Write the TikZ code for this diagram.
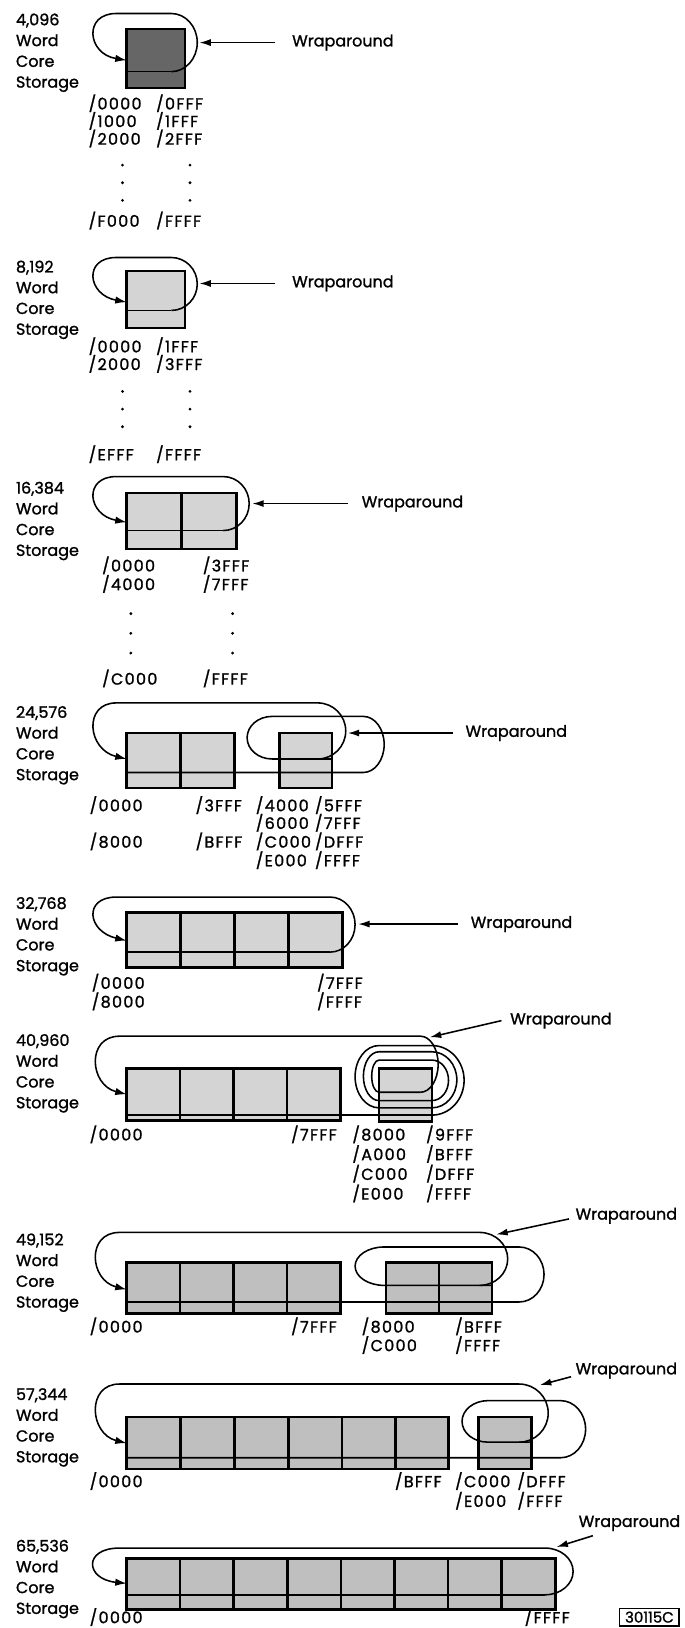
\documentclass[tikz,border=0pt]{standalone}
\usepackage{fontspec}
\setmainfont{Poppins}[FakeBold=1.2]
\newfontfamily\addrfont{Poppins}[FakeBold=1.2, LetterSpace=8]
\usetikzlibrary{arrows.meta}
\definecolor{darkfill}{gray}{0.40}
\definecolor{lightfill}{gray}{0.83}
\definecolor{midfill}{gray}{0.75}
\tikzset{
  lbl/.style={anchor=base west, align=left, inner sep=0pt, font=\fontsize{7.7}{10}\selectfont},
  addr/.style={anchor=base west, inner sep=0pt, font=\addrfont\fontsize{7.7}{9}\selectfont},
  wrap/.style={anchor=west, inner sep=0pt, font=\fontsize{7.7}{9}\selectfont},
  lp/.style={line width=0.75pt},
  lparrow/.style={line width=0.75pt, -{Latex[length=5.5pt,width=3.6pt]}},
  ptr/.style={line width=0.75pt, -{Latex[length=5.5pt,width=3.4pt]}},
  boxl/.style={line width=1.2pt},
  stamp/.style={draw, line width=0.6pt, inner sep=0pt, minimum width=28.5pt, minimum height=8.5pt, font=\fontsize{7.2}{8}\selectfont},
}
% label block: #1 name, #2 centre of first line (y), #3 text
\newcommand\lab[3]{\node[lbl] (#1) at (15,#2+65.4) {#3\\Word\\Core\\Storage};}
\newcommand\addr[4]{\node[addr] (#1) at (#2,#3+5.4) {#4};}
\begin{document}
\begin{tikzpicture}[x=0.5pt,y=-0.5pt]
\useasboundingbox[fill=white] (0,0) rectangle (659,1568);

% ---------------- 4,096
\lab{l1}{19}{4,096}
\fill[darkfill] (122,28) rectangle (178,85);
\draw[boxl] (122,28) rectangle (178,85);
\coordinate (s1) at (165,69); \coordinate (t1) at (122,58);
\draw[lp] (122,69) -- (s1);
\draw[lparrow] (s1) arc[start angle=90, end angle=-90, x radius=25, y radius=28] -- (112,13) .. controls (80,13) and (84,52) .. (t1);
\node[wrap] (w1) at (281,41) {Wraparound};
\coordinate (h1) at (192,41);
\draw[ptr] ([xshift=-8pt]w1.west) -- (h1);
\addr{a1a}{85}{100}{/0000} \addr{a1b}{150}{100}{/0FFF}
\addr{a1c}{85}{117}{/1000} \addr{a1d}{150}{117}{/1FFF}
\addr{a1e}{85}{134}{/2000} \addr{a1f}{150}{134}{/2FFF}
\foreach \yy in {159,176,193} {\fill (118,\yy) circle (1.5); \fill (183,\yy) circle (1.5);}
\addr{a1g}{85}{213}{/F000} \addr{a1h}{150}{213}{/FFFF}

% ---------------- 8,192
\lab{l2}{257}{8,192}
\fill[lightfill] (122,261) rectangle (178,316);
\draw[boxl] (122,261) rectangle (178,316);
\coordinate (s2) at (165,299); \coordinate (t2) at (122,291);
\draw[lp] (122,299) -- (s2);
\draw[lparrow] (s2) arc[start angle=90, end angle=-90, x radius=25, y radius=25.5] -- (112,248) .. controls (80,248) and (84,284) .. (t2);
\node[wrap] (w2) at (281,273) {Wraparound};
\coordinate (h2) at (192,273);
\draw[ptr] ([xshift=-8pt]w2.west) -- (h2);
\addr{a2a}{85}{334}{/0000} \addr{a2b}{150}{334}{/1FFF}
\addr{a2c}{85}{351}{/2000} \addr{a2d}{150}{351}{/3FFF}
\foreach \yy in {377,394,411} {\fill (118,\yy) circle (1.5); \fill (183,\yy) circle (1.5);}
\addr{a2g}{85}{438}{/EFFF} \addr{a2h}{150}{438}{/FFFF}

% ---------------- 16,384
\lab{l3}{470}{16,384}
\fill[lightfill] (122,475) rectangle (228,529);
\draw[boxl] (122,475) rectangle (228,529) (175,475) -- (175,529);
\coordinate (s3) at (215,511); \coordinate (t3) at (122,503);
\draw[lp] (122,511) -- (s3);
\draw[lparrow] (s3) arc[start angle=90, end angle=-90, x radius=25, y radius=26] -- (112,459) .. controls (80,459) and (84,496) .. (t3);
\node[wrap] (w3) at (348,485) {Wraparound};
\coordinate (h3) at (243,485);
\draw[ptr] ([xshift=-6.5pt]w3.west) -- (h3);
\addr{a3a}{98}{545}{/0000} \addr{a3b}{195}{545}{/3FFF}
\addr{a3c}{98}{563}{/4000} \addr{a3d}{195}{563}{/7FFF}
\foreach \yy in {591,610,629} {\fill (126,\yy) circle (1.5); \fill (224,\yy) circle (1.5);}
\addr{a3g}{98}{654}{/C000} \addr{a3h}{195}{654}{/FFFF}

% ---------------- 24,576
\lab{l4}{686}{24,576}
\fill[lightfill] (122,706) rectangle (226,759);
\fill[lightfill] (269,706) rectangle (320,759);
\draw[boxl] (122,706) rectangle (226,759) (174,706) -- (174,759);
\draw[boxl] (269,706) rectangle (320,759);
\coordinate (t4) at (122,731);
\draw[lparrow] (306,731) arc[start angle=90, end angle=-90, x radius=27, y radius=27] -- (112,677) .. controls (80,677) and (84,722) .. (t4);
\draw[lp] (122,744) -- (350,744) arc[start angle=90, end angle=-90, x radius=20, y radius=27] -- (262,690) arc[start angle=-90, end angle=-270, x radius=24, y radius=20.5] -- (320,731);
\node[wrap] (w4) at (448,706) {Wraparound};
\coordinate (h4) at (335,706);
\draw[ptr] ([xshift=-6pt]w4.west) -- (h4);
\addr{a4a}{86}{776}{/0000} \addr{a4b}{188}{776}{/3FFF} \addr{a4c}{246}{776}{/4000} \addr{a4d}{303}{776}{/5FFF}
\addr{a4e}{246}{793}{/6000} \addr{a4f}{303}{793}{/7FFF}
\addr{a4g}{86}{811}{/8000} \addr{a4h}{188}{811}{/BFFF} \addr{a4i}{246}{811}{/C000} \addr{a4j}{303}{811}{/DFFF}
\addr{a4k}{246}{829}{/E000} \addr{a4l}{303}{829}{/FFFF}

% ---------------- 32,768
\lab{l5}{870}{32,768}
\fill[lightfill] (122,879) rectangle (330,932);
\draw[boxl] (122,879) rectangle (330,932) (174,879) -- (174,932) (226,879) -- (226,932) (278,879) -- (278,932);
\coordinate (s5) at (318,917); \coordinate (t5) at (122,906);
\draw[lp] (122,917) -- (s5);
\draw[lparrow] (s5) arc[start angle=90, end angle=-90, x radius=24, y radius=26.5] -- (112,864) .. controls (80,864) and (84,897) .. (t5);
\node[wrap] (w5) at (453,890) {Wraparound};
\coordinate (h5) at (345,890);
\draw[ptr] ([xshift=-6pt]w5.west) -- (h5);
\addr{a5a}{88}{947}{/0000} \addr{a5b}{305}{947}{/7FFF}
\addr{a5c}{88}{965}{/8000} \addr{a5d}{305}{965}{/FFFF}

% ---------------- 40,960
\lab{l6}{1002}{40,960}
\fill[lightfill] (122,1029) rectangle (328,1079);
\fill[lightfill] (365,1029) rectangle (416,1080);
\draw[boxl] (122,1029) rectangle (328,1079) (173.5,1029) -- (173.5,1079) (225,1029) -- (225,1079) (276.5,1029) -- (276.5,1079);
\draw[boxl] (365,1029) rectangle (416,1080);
\coordinate (t6) at (122,1054);
\draw[lp] (122,1074) -- (416,1074);
\draw[lp] (416,1074) arc[start angle=90, end angle=-90, x radius=31, y radius=33.5] -- (365,1007) arc[start angle=-90, end angle=-270, x radius=23, y radius=30] -- (416,1067);
\draw[lp] (416,1067) arc[start angle=90, end angle=-90, x radius=24, y radius=27] -- (365,1013) arc[start angle=-90, end angle=-270, x radius=15, y radius=23.5] -- (416,1060);
\draw[lp] (416,1060) arc[start angle=90, end angle=-90, x radius=16, y radius=19.5] -- (365,1021) arc[start angle=-90, end angle=-270, x radius=7, y radius=15.5] -- (405,1052);
\draw[lparrow] (405,1052) arc[start angle=90, end angle=-90, x radius=17, y radius=27] -- (115,998) .. controls (83,998) and (86,1045) .. (t6);
\node[wrap] (w6) at (491,983) {Wraparound};
\coordinate (h6) at (414,999);
\draw[ptr] ([xshift=-4pt]w6.west) -- (h6);
\addr{a6a}{86}{1093}{/0000} \addr{a6b}{280}{1093}{/7FFF} \addr{a6c}{339}{1093}{/8000} \addr{a6d}{410}{1093}{/9FFF}
\addr{a6e}{339}{1112}{/A000} \addr{a6f}{410}{1112}{/BFFF}
\addr{a6g}{339}{1131}{/C000} \addr{a6h}{410}{1131}{/DFFF}
\addr{a6i}{339}{1150}{/E000} \addr{a6j}{410}{1150}{/FFFF}

% ---------------- 49,152
\lab{l7}{1194}{49,152}
\fill[midfill] (122,1216) rectangle (328,1265);
\fill[midfill] (372,1216) rectangle (474,1265);
\draw[boxl] (122,1216) rectangle (328,1265) (173.5,1216) -- (173.5,1265) (225,1216) -- (225,1265) (276.5,1216) -- (276.5,1265);
\draw[boxl] (372,1216) rectangle (474,1265) (423,1216) -- (423,1265);
\coordinate (t7) at (122,1242);
\draw[lparrow] (462,1238) arc[start angle=90, end angle=-90, x radius=27, y radius=25.5] -- (115,1187) .. controls (83,1187) and (86,1233) .. (t7);
\draw[lp] (122,1254) -- (500,1254) arc[start angle=90, end angle=-90, x radius=24, y radius=26.5] -- (370,1201) arc[start angle=-90, end angle=-270, x radius=28, y radius=18.5] -- (474,1238);
\node[wrap] (w7) at (554,1171) {Wraparound};
\coordinate (h7) at (478,1189);
\draw[ptr] ([xshift=-3pt,yshift=-1.5pt]w7.west) -- (h7);
\addr{a7a}{86}{1278}{/0000} \addr{a7b}{280}{1278}{/7FFF} \addr{a7c}{348}{1278}{/8000} \addr{a7d}{438}{1278}{/BFFF}
\addr{a7e}{348}{1296}{/C000} \addr{a7f}{438}{1296}{/FFFF}

% ---------------- 57,344
\lab{l8}{1343}{57,344}
\fill[midfill] (122,1365) rectangle (432,1415);
\fill[midfill] (461,1365) rectangle (512,1415);
\draw[boxl] (122,1365) rectangle (432,1415) (174,1365) -- (174,1415) (226,1365) -- (226,1415) (278,1365) -- (278,1415) (329.5,1365) -- (329.5,1415) (381,1365) -- (381,1415);
\draw[boxl] (461,1365) rectangle (512,1415);
\coordinate (t8) at (122,1390);
\draw[lparrow] (500,1389) arc[start angle=90, end angle=-90, x radius=28, y radius=28] -- (115,1333) .. controls (83,1333) and (86,1381) .. (t8);
\draw[lp] (122,1404) -- (540,1404) arc[start angle=90, end angle=-90, x radius=24, y radius=27.5] -- (470,1349) arc[start angle=-90, end angle=-270, x radius=25, y radius=20] -- (512,1389);
\node[wrap] (w8) at (554,1320) {Wraparound};
\coordinate (h8) at (520,1334);
\draw[ptr] ([xshift=-2pt,yshift=-3pt]w8.west) -- (h8);
\addr{a8a}{86}{1427}{/0000} \addr{a8b}{380}{1427}{/BFFF} \addr{a8c}{438}{1427}{/C000} \addr{a8d}{498}{1427}{/DFFF}
\addr{a8e}{438}{1446}{/E000} \addr{a8f}{498}{1446}{/FFFF}

% ---------------- 65,536
\lab{l9}{1489}{65,536}
\fill[midfill] (122,1501) rectangle (535,1550);
\draw[boxl] (122,1501) rectangle (535,1550);
\foreach \xx in {173.6,225.1,276.7,328.3,379.8,431.4,483} {\draw[boxl] (\xx,1501) -- (\xx,1550);}
\coordinate (s9) at (525,1536); \coordinate (t9) at (122,1525);
\draw[lp] (122,1536) -- (s9);
\draw[lparrow] (s9) arc[start angle=90, end angle=-90, x radius=27, y radius=22.5] -- (115,1491) .. controls (80,1491) and (82,1521) .. (t9);
\node[wrap] (w9) at (557,1467) {Wraparound};
\coordinate (h9) at (536,1490);
\draw[ptr] ([xshift=7pt,yshift=-2pt]w9.south west) -- (h9);
\addr{a9a}{86}{1558}{/0000} \addr{a9b}{505}{1558}{/FFFF}
\node[stamp] (st) at (625.5,1557.5) {30115C};
\end{tikzpicture}
\end{document}
